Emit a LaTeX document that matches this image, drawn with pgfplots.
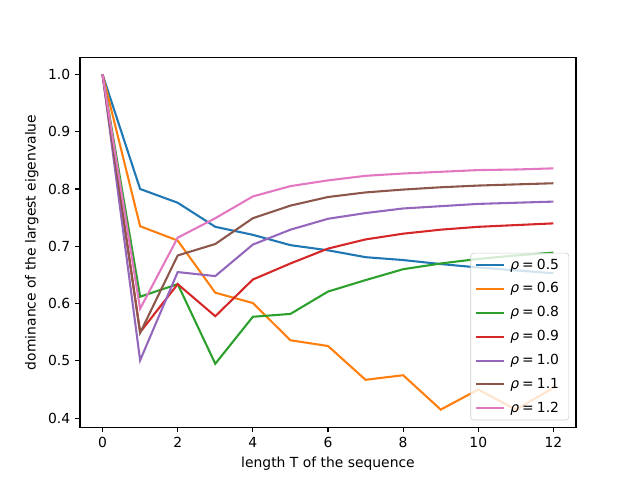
\documentclass[border=0pt]{standalone}
\usepackage{fontspec}
\setmainfont{DejaVu Sans}
\usepackage{pgfplots}
\pgfplotsset{compat=1.18}
\definecolor{c0}{HTML}{1F77B4}
\definecolor{c1}{HTML}{FF7F0E}
\definecolor{c2}{HTML}{2CA02C}
\definecolor{c3}{HTML}{D62728}
\definecolor{c4}{HTML}{9467BD}
\definecolor{c5}{HTML}{8C564B}
\definecolor{c6}{HTML}{E377C2}
\begin{document}
\begin{tikzpicture}
\begin{axis}[
  at={(0,0)}, anchor=south west,
  scale only axis, width=357.12pt, height=266.112pt,
  xmin=-0.6, xmax=12.6, ymin=0.3843, ymax=1.0293,
  xtick={0,2,4,6,8,10,12},
  ytick={0.4,0.5,0.6,0.7,0.8,0.9,1.0},
  tick pos=left,
  yticklabel style={/pgf/number format/.cd,fixed,fixed zerofill,precision=1},
  /pgf/number format/assume math mode=true,
  tick align=outside, major tick length=3.5pt,
  tick style={line width=0.8pt, black},
  axis line style={line width=0.8pt},
  tick label style={font=\fontsize{10}{12}\selectfont},
  label style={font=\fontsize{10}{12}\selectfont},
  xlabel={length T of the sequence},
  ylabel={dominance of the largest eigenvalue},
  every axis plot/.append style={line width=1.5pt},
  legend cell align=left,
  legend image code/.code={\draw[#1, line width=1.5pt] (0pt,0pt) -- (20pt,0pt);},
  legend style={at={(1,0)}, anchor=south east, xshift=-5pt, yshift=5pt,
    draw=black!20, rounded corners=2pt, fill=white, fill opacity=0.8, text opacity=1,
    font=\fontsize{10}{12}\selectfont, row sep=8.3pt, inner xsep=3pt, inner ysep=4pt,
    nodes={inner xsep=4pt, inner ysep=0pt}},
]
\addplot[c0] coordinates {(0,1.0)(1,0.800)(2,0.776)(3,0.734)(4,0.720)(5,0.702)(6,0.693)(7,0.681)(8,0.676)(9,0.669)(10,0.663)(11,0.658)(12,0.653)};
\addlegendentry{\textit{ρ}\:=\:0.5}
\addplot[c1] coordinates {(0,1)(1,0.735)(2,0.710)(3,0.619)(4,0.601)(5,0.536)(6,0.526)(7,0.467)(8,0.475)(9,0.415)(10,0.450)(11,0.415)(12,0.453)};
\addlegendentry{\textit{ρ}\:=\:0.6}
\addplot[c2] coordinates {(0,1)(1,0.612)(2,0.634)(3,0.495)(4,0.577)(5,0.582)(6,0.621)(7,0.641)(8,0.660)(9,0.670)(10,0.678)(11,0.684)(12,0.689)};
\addlegendentry{\textit{ρ}\:=\:0.8}
\addplot[c3] coordinates {(0,1)(1,0.550)(2,0.634)(3,0.578)(4,0.642)(5,0.670)(6,0.696)(7,0.712)(8,0.722)(9,0.729)(10,0.734)(11,0.737)(12,0.740)};
\addlegendentry{\textit{ρ}\:=\:0.9}
\addplot[c4] coordinates {(0,1)(1,0.501)(2,0.655)(3,0.648)(4,0.703)(5,0.729)(6,0.748)(7,0.758)(8,0.766)(9,0.770)(10,0.774)(11,0.776)(12,0.778)};
\addlegendentry{\textit{ρ}\:=\:1.0}
\addplot[c5] coordinates {(0,1)(1,0.549)(2,0.684)(3,0.704)(4,0.749)(5,0.771)(6,0.786)(7,0.794)(8,0.799)(9,0.803)(10,0.806)(11,0.808)(12,0.810)};
\addlegendentry{\textit{ρ}\:=\:1.1}
\addplot[c6] coordinates {(0,1)(1,0.591)(2,0.715)(3,0.749)(4,0.787)(5,0.805)(6,0.815)(7,0.823)(8,0.827)(9,0.830)(10,0.833)(11,0.834)(12,0.836)};
\addlegendentry{\textit{ρ}\:=\:1.2}
\end{axis}
\pgfresetboundingbox
\path[use as bounding box] (-57.6pt,-38.016pt) rectangle (403.2pt,307.584pt);
\end{tikzpicture}
\end{document}
